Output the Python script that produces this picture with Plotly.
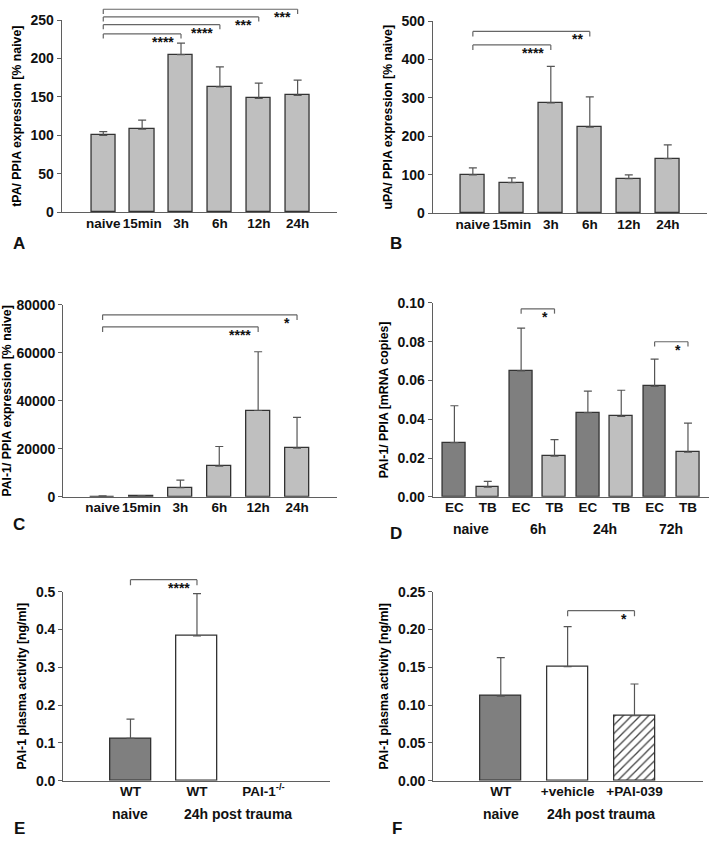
import plotly.graph_objects as go

# ---- data ----
time_cats = ["naive", "15min", "3h", "6h", "12h", "24h"]

tpa_mean = [100, 108, 205, 163, 148, 152]
tpa_sem = [5, 12, 15, 26, 20, 20]

upa_mean = [100, 80, 287, 224, 90, 142]
upa_sem = [18, 12, 95, 79, 10, 36]

pai_mean = [100, 250, 3800, 12800, 36000, 20300]
pai_sem = [300, 300, 3200, 8200, 24500, 12800]

d_cells = ["EC", "TB", "EC", "TB", "EC", "TB", "EC", "TB"]
d_groups = ["naive", "6h", "24h", "72h"]
d_mean = [0.028, 0.005, 0.065, 0.021, 0.0435, 0.0415, 0.057, 0.023]
d_sem = [0.019, 0.003, 0.022, 0.0085, 0.011, 0.0135, 0.014, 0.015]

e_cats = ["WT", "WT", "PAI-1<sup>-/-</sup>"]
e_mean = [0.112, 0.383, None]   # no activity measurable in PAI-1 -/- mice, no bar drawn
e_sem = [0.051, 0.112, None]

f_cats = ["WT", "+vehicle", "+PAI-039"]
f_mean = [0.112, 0.151, 0.086]
f_sem = [0.051, 0.053, 0.042]

# significance brackets: (from, to, level, stars)
a_sig = [(0, 2, 232, "****"), (0, 3, 244, "****"), (0, 4, 254, "***"), (0, 5, 264, "***")]
b_sig = [(0, 2, 438, "****"), (0, 3, 473, "**")]
c_sig = [(0, 4, 70900, "****"), (0, 5, 75900, "*")]
d_sig = [(2, 3, 0.097, "*"), (6, 7, 0.080, "*")]
e_sig = [(0, 1, 0.532, "****")]
f_sig = [(1, 2, 0.225, "*")]

LIGHT = "#bfbfbf"
DARK = "#7f7f7f"
WHITE = "#ffffff"
EDGE = "#333333"
AXIS = "#5f5f5f"
INK = "#111111"
FONT = "Liberation Sans, Arial, sans-serif"

panels = [
    dict(letter="A", cats=time_cats, mean=tpa_mean, sem=tpa_sem, sig=a_sig, colors=[LIGHT] * 6,
         xd=[0.0870, 0.4757], yd=[0.7538, 0.9855], xr=[-1.07, 6.02], ymax=250, dtick=50, fmt="d",
         drop=6, width=0.62, title="tPA/ PPIA expression [% naive]", lx=11, ly=240),
    dict(letter="B", cats=time_cats, mean=upa_mean, sem=upa_sem, sig=b_sig, colors=[LIGHT] * 6,
         xd=[0.6103, 0.9968], yd=[0.7526, 0.9843], xr=[-1.03, 6.0], ymax=500, dtick=100, fmt="d",
         drop=13, width=0.62, title="uPA/ PPIA expression [% naive]", lx=388, ly=240),
    dict(letter="C", cats=time_cats, mean=pai_mean, sem=pai_sem, sig=c_sig, colors=[LIGHT] * 6,
         xd=[0.0893, 0.4749], yd=[0.4110, 0.6422], xr=[-1.01, 6.02], ymax=80000, dtick=20000, fmt="d",
         drop=2200, width=0.62, title="PAI-1/ PPIA expression [% naive]", lx=11, ly=526),
    dict(letter="D", cats=d_cells, mean=d_mean, sem=d_sem, sig=d_sig, colors=[DARK, LIGHT] * 4,
         xd=[0.6103, 1.0], yd=[0.4110, 0.6446], xr=[-0.65, 7.63], ymax=0.10, dtick=0.02, fmt=".2f",
         drop=0.0025, width=0.68, title="PAI-1/ PPIA [mRNA copies]", lx=388, ly=536),
    dict(letter="E", cats=e_cats, mean=e_mean, sem=e_sem, sig=e_sig, colors=[DARK, WHITE, WHITE],
         xd=[0.0893, 0.4654], yd=[0.0689, 0.2967], xr=[-1.01, 3.0], ymax=0.5, dtick=0.1, fmt=".1f",
         drop=0.015, width=0.62, title="PAI-1 plasma activity [ng/ml]", lx=12, ly=836),
    dict(letter="F", cats=f_cats, mean=f_mean, sem=f_sem, sig=f_sig, colors=[DARK, WHITE, WHITE],
         xd=[0.6111, 0.9920], yd=[0.0689, 0.2967], xr=[-1.01, 3.03], ymax=0.25, dtick=0.05, fmt=".2f",
         drop=0.0075, width=0.61, title="PAI-1 plasma activity [ng/ml]", lx=390, ly=836),
]

fig = go.Figure()
shapes, annots = [], []
H = 846

for i, p in enumerate(panels):
    n = i + 1
    sfx = "" if n == 1 else str(n)
    xs = list(range(len(p["cats"])))
    pattern = None
    if p["letter"] == "F":
        # hatched bar for the PAI-039 treated group
        pattern = dict(shape=["", "", "/"], fgcolor="#1a1a1a", fgopacity=1, size=6, solidity=0.22)
    fig.add_trace(go.Bar(
        x=xs, y=p["mean"], width=p["width"],
        marker=dict(color=p["colors"], line=dict(color=EDGE, width=1.3), pattern=pattern),
        error_y=dict(type="data", symmetric=False, array=p["sem"], arrayminus=[0] * len(xs),
                     color="#555555", thickness=1.2, width=4),
        xaxis="x" + sfx, yaxis="y" + sfx, showlegend=False, hoverinfo="skip",
    ))
    fig.layout["xaxis" + sfx] = dict(
        domain=p["xd"], range=p["xr"], anchor="y" + sfx, showline=True, linecolor=AXIS, linewidth=1.2,
        showgrid=False, zeroline=False, ticks="", tickmode="array", tickvals=xs, ticktext=p["cats"],
        tickangle=0, tickfont=dict(family=FONT, size=13.5, color=INK, weight="bold"), ticklabelstandoff=-2,
    )
    fig.layout["yaxis" + sfx] = dict(
        domain=p["yd"], range=[0, p["ymax"]], anchor="x" + sfx, showline=True, linecolor=AXIS,
        linewidth=1.2, showgrid=False, zeroline=False, ticks="outside", ticklen=4, tickcolor=AXIS,
        dtick=p["dtick"], tick0=0, tickformat=p["fmt"],
        tickfont=dict(family=FONT, size=14, color=INK, weight="bold"),
        title=dict(text=p["title"], standoff=6, font=dict(family=FONT, size=12.3, color="#000000", weight="bold")),
    )
    # brackets, drawn in axis-domain units so they may rise above the top tick
    for a, b, lvl, stars in p["sig"]:
        top = lvl / p["ymax"]
        bot = (lvl - p["drop"]) / p["ymax"]
        ln = dict(color="#666666", width=1.2)
        for x0, y0, x1, y1 in [(a, bot, a, top), (a, top, b, top), (b, top, b, bot)]:
            shapes.append(dict(type="line", xref="x" + sfx, yref="y" + sfx + " domain",
                               x0=x0, x1=x1, y0=y0, y1=y1, line=ln))
        annots.append(dict(x=b, y=top, xref="x" + sfx, yref="y" + sfx + " domain", text=stars,
                           showarrow=False, xanchor="right", yanchor="top", xshift=-5, yshift=2,
                           font=dict(family=FONT, size=14, color=INK, weight="bold")))
    # panel letter
    annots.append(dict(x=p["lx"] / 709, y=(H - p["ly"]) / H, xref="paper", yref="paper", text=p["letter"],
                       showarrow=False, xanchor="left", yanchor="middle",
                       font=dict(family=FONT, size=17, color=INK, weight="bold")))

# group labels under panel D
for k, g in enumerate(d_groups):
    annots.append(dict(x=2 * k + 0.5, y=(H - 530.7) / H, xref="x4", yref="paper", text=g, showarrow=False,
                       xanchor="center", yanchor="middle",
                       font=dict(family=FONT, size=14, color=INK, weight="bold")))

# group labels under panels E and F
for ax, post_x in [("x5", 1.62), ("x6", 1.5)]:
    for txt, xx in [("naive", 0), ("24h post trauma", post_x)]:
        annots.append(dict(x=xx, y=(H - 821.7) / H, xref=ax, yref="paper", text=txt, showarrow=False,
                           xanchor="center", yanchor="middle",
                           font=dict(family=FONT, size=14, color=INK, weight="bold")))

fig.update_layout(
    width=709, height=846, margin=dict(l=0, r=0, t=0, b=0),
    paper_bgcolor="white", plot_bgcolor="white", showlegend=False, bargap=0,
    shapes=shapes, annotations=annots,
)

fig.write_html("out.html", config={"displayModeBar": False},
               post_script="document.body.style.margin='0';")
